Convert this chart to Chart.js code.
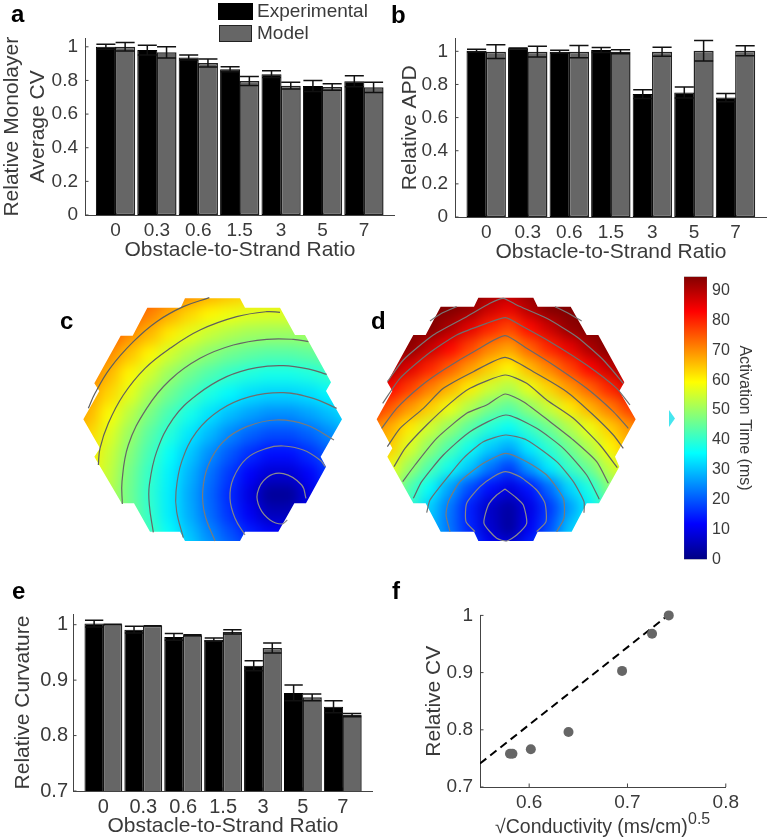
<!DOCTYPE html>
<html>
<head>
<meta charset="utf-8">
<script src="https://cdn.jsdelivr.net/npm/chart.js@4/dist/chart.umd.js"></script>
<style>
  html, body { margin: 0; padding: 0; background: #fff; }
  body { position: relative; width: 770px; height: 839px; overflow: hidden; font-family: "Liberation Sans", sans-serif; color: #3a3a3a; }
  canvas { position: absolute; }
  .panel { position: absolute; font: bold 24px/24px "Liberation Sans", sans-serif; color: #000; }
  .swatch { position: absolute; box-sizing: border-box; }
  .legend-text { position: absolute; font-size: 19px; line-height: 20px; left: 257px; }
  #f-xlabel { position: absolute; left: 495px; top: 814px; font-size: 19.5px; line-height: 24px; white-space: nowrap; }
  #f-xlabel span { position: absolute; left: 193px; top: -7px; font-size: 16px; }
  #stray { position: absolute; left: 669px; top: 410px; width: 6px; height: 17px; background: #45e6ef; clip-path: polygon(0 0, 100% 50%, 0 100%); }
</style>
</head>
<body>
<canvas id="chart-a"></canvas>
<canvas id="chart-b"></canvas>
<canvas id="chart-c"></canvas>
<canvas id="chart-d"></canvas>
<canvas id="chart-bar"></canvas>
<canvas id="chart-e"></canvas>
<canvas id="chart-f"></canvas>

<div class="panel" style="left:11px;top:2px">a</div>
<div class="panel" style="left:391px;top:3px">b</div>
<div class="panel" style="left:60px;top:309px">c</div>
<div class="panel" style="left:371px;top:309px">d</div>
<div class="panel" style="left:12px;top:579px">e</div>
<div class="panel" style="left:392px;top:579px">f</div>

<div class="swatch" style="left:218px;top:3px;width:35px;height:17px;background:#000"></div>
<div class="legend-text" style="top:1px">Experimental</div>
<div class="swatch" style="left:219px;top:25px;width:33px;height:17px;background:#666;border:1.5px solid #222"></div>
<div class="legend-text" style="top:23px">Model</div>

<div id="f-xlabel">√Conductivity (ms/cm)<span>0.5</span></div>
<div id="stray"></div>

<script>
const ratioLabels = ["0", "0.3", "0.6", "1.5", "3", "5", "7"];
const ratioPositions = [1, 2, 3, 4, 5, 6, 7];

const aExperimental = [1.0, 0.981, 0.937, 0.866, 0.837, 0.767, 0.795];
const aExperimentalErr = [0.015, 0.029, 0.015, 0.015, 0.02, 0.032, 0.033];
const aModel = [1.0, 0.967, 0.904, 0.797, 0.769, 0.761, 0.759];
const aModelErr = [0.025, 0.033, 0.024, 0.027, 0.02, 0.02, 0.031];
const aTicks = [0, 0.2, 0.4, 0.6, 0.8, 1];

const bExperimental = [1.004, 1.018, 0.998, 1.008, 0.742, 0.752, 0.721];
const bExperimentalErr = [0.008, 0.002, 0.008, 0.015, 0.026, 0.033, 0.025];
const bModel = [0.998, 0.998, 0.998, 0.998, 0.998, 1.003, 1.003];
const bModelErr = [0.041, 0.033, 0.037, 0.012, 0.027, 0.062, 0.03];
const bTicks = [0, 0.2, 0.4, 0.6, 0.8, 1];

const eExperimental = [1.002, 0.991, 0.978, 0.973, 0.926, 0.877, 0.852];
const eExperimentalErr = [0.006, 0.006, 0.006, 0.003, 0.009, 0.014, 0.011];
const eModel = [1.001, 0.998, 0.981, 0.987, 0.958, 0.869, 0.837];
const eModelErr = [0, 0, 0.001, 0.004, 0.009, 0.006, 0.003];
const eTicks = [0.7, 0.8, 0.9, 1];

const fConductivity = [0.5805, 0.583, 0.6017, 0.64, 0.6945, 0.725, 0.742];
const fRelativeCv = [0.758, 0.758, 0.766, 0.796, 0.903, 0.968, 1.0];
const fFitX = [0.55, 0.741];
const fFitY = [0.741, 1.0];
const fXTicks = [0.6, 0.7, 0.8];
const fYTicks = [0.7, 0.8, 0.9, 1];

const barTicks = [0, 10, 20, 30, 40, 50, 60, 70, 80, 90];
const jetStops = [0, 11.9, 35.6, 59.4, 83.1, 95];
const jetColors = [[0, 0, 131], [0, 0, 255], [0, 255, 255], [255, 255, 0], [255, 0, 0], [128, 0, 0]];

// activation maps: values read on a coarse grid, x/y are in map units
const mapCColumns = [60, 120, 180, 240, 300, 360, 420, 480, 540, 600, 660, 720, 780, 840, 900];
const mapCRows = [-30, 30, 90, 150, 210, 270, 330, 390, 450, 510, 570, 630, 690, 750, 810];
const mapCValues = [
  [92, 88, 84, 81, 77, 75, 72, 70, 69, 68, 67, 67, 68, 69, 70],
  [90, 86, 82, 79, 76, 73, 70, 67, 65, 63, 62, 62, 63, 64, 66],
  [86, 83, 79, 75, 71, 67, 63, 60, 58, 56.5, 56, 56, 56.5, 58, 60],
  [83, 79, 75, 70, 66, 61, 57, 54, 52, 50.5, 50, 50, 50.5, 52, 54],
  [80, 75, 70, 65, 60, 55, 51.5, 48.5, 46, 44.5, 43.5, 43.5, 44.5, 46, 48.5],
  [77, 72, 66, 60, 55, 50, 46, 43, 40.5, 38.5, 37.5, 37.5, 38.5, 40.5, 43],
  [74, 68, 63, 57, 51, 46, 42, 38, 35, 32.5, 31.5, 31.5, 32.5, 35, 38],
  [71, 66, 59, 53, 47, 42, 37.5, 33, 29.5, 27, 25, 25, 27, 29.5, 33],
  [69, 63, 56.5, 50, 44, 39, 33.5, 29, 24.5, 21, 19, 19, 21, 24.5, 29],
  [68, 61, 54.5, 48, 42, 36, 30.5, 25, 20, 16, 13, 13, 16, 20, 25],
  [66, 60, 53.5, 46.5, 40.5, 34.5, 28.5, 22.5, 17, 11.5, 7.5, 7.5, 11.5, 17, 22.5],
  [65.5, 59.5, 52.5, 46, 40, 34, 27.5, 21.5, 15.5, 9, 2, 2, 9, 15.5, 21.5],
  [66, 59.5, 53, 46.5, 40.5, 34, 28, 22, 16.5, 11, 5.5, 5.5, 11, 16.5, 22],
  [66.5, 60.5, 54, 47.5, 41.5, 36, 30, 24.5, 19.5, 15, 12, 12, 15, 19.5, 24.5],
  [68, 62, 55.5, 49.5, 44, 38.5, 33, 28, 23.5, 20, 18, 18, 20, 23.5, 28],
];
const mapCOutline = [[405, 40], [570, 40], [585, 68], [690, 68], [735, 150], [765, 150], [843, 292], [828, 318], [876, 403], [812, 515], [828, 545], [768, 655], [733, 655], [685, 740], [585, 740], [570, 768], [405, 768], [390, 740], [300, 740], [252, 655], [215, 655], [133, 515], [150, 490], [100, 403], [148, 318], [133, 295], [212, 152], [248, 152], [292, 68], [392, 68]];
const mapCContours = [
  [[712, 705], [695, 717], [660, 705], [630, 670], [622, 625], [650, 578], [700, 566], [755, 600], [768, 640]],
  [[585, 750], [555, 700], [540, 640], [550, 580], [590, 520], [650, 490], [700, 483], [760, 495], [810, 525], [826, 545]],
  [[495, 768], [465, 690], [458, 620], [475, 540], [520, 470], [590, 425], [680, 405], [770, 420], [852, 465]],
  [[400, 758], [380, 680], [378, 620], [395, 530], [440, 440], [510, 375], [600, 335], [700, 323], [790, 340], [860, 370]],
  [[310, 742], [298, 660], [298, 600], [320, 500], [370, 400], [440, 330], [530, 275], [620, 248], [700, 242], [780, 253], [830, 268]],
  [[217, 657], [216, 590], [235, 480], [290, 370], [360, 285], [450, 220], [550, 180], [650, 163], [730, 163], [775, 170]],
  [[145, 540], [150, 490], [175, 415], [220, 330], [285, 250], [360, 190], [450, 135], [560, 95], [650, 80], [690, 82]],
  [[115, 370], [135, 325], [180, 250], [250, 170], [320, 110], [400, 65], [478, 38]],
];
const mapCContourColors = ["#8c8c8c", "#858585", "#7a7a7a", "#6e6e6e", "#666666", "#666666", "#5e5e5e", "#5e5e5e"];

const mapDColumns = [30, 90, 150, 210, 270, 330, 390, 450, 510, 570, 630, 690, 750, 810, 870];
const mapDRows = [10, 70, 130, 190, 250, 310, 370, 430, 490, 550, 610, 670, 730, 790];
const mapDValues = [
  [95, 95, 95, 95, 95, 95, 94, 92, 94, 95, 95, 95, 95, 95, 95],
  [95, 95, 95, 95, 95, 93.5, 88, 85, 90.5, 95, 95, 95, 95, 95, 95],
  [95, 95, 95, 95, 91, 85.6, 80, 76.6, 82.5, 88, 93.5, 95, 95, 95, 95],
  [95, 95, 94, 88.5, 83, 77, 71, 68, 74, 80, 85, 91, 95, 95, 95],
  [95, 91.5, 86, 80, 74.5, 69, 64, 60, 66, 71, 77, 83, 88.5, 94, 95],
  [89, 83, 77.5, 71.5, 66.5, 61, 55, 52, 57.5, 63.5, 69, 74, 80, 86, 91],
  [81, 75, 69, 64, 58, 52, 47, 44, 49, 54.5, 61, 66.5, 71.5, 77.5, 83],
  [72, 67, 61, 55, 49.5, 44, 39, 36, 41, 46, 52, 58, 64, 69, 75],
  [69, 64, 56, 49, 43, 37, 31, 27.6, 34, 40, 46, 52, 60, 66, 72],
  [64, 58, 50, 43, 37, 30.5, 23, 17.5, 26.5, 34, 41, 46, 54, 60, 66],
  [62, 55, 43, 36, 27, 19, 13, 9, 13.5, 22, 32, 38, 48, 56, 64],
  [56, 48, 40, 31, 23, 14.5, 6.5, 3, 9.5, 17, 26.5, 34.5, 43, 50, 58],
  [54, 46, 38, 30, 22.5, 15, 7.5, 2.5, 11, 19, 30, 37, 44, 52, 60],
  [56, 48, 40, 33, 26, 19, 12, 9, 15, 24, 34, 40, 47, 55, 62],
];
const mapDOutline = [[355, 38], [520, 38], [533, 65], [632, 65], [680, 150], [715, 150], [793, 292], [778, 318], [827, 403], [765, 515], [778, 545], [717, 655], [680, 655], [635, 740], [533, 740], [520, 768], [355, 768], [342, 740], [242, 740], [197, 655], [160, 655], [82, 515], [97, 490], [50, 403], [97, 318], [82, 292], [160, 150], [197, 150], [242, 65], [342, 65]];
const mapDContours = [
  [[435, 612], [465, 635], [490, 660], [500, 715], [470, 750], [440, 768], [410, 760], [372, 715], [385, 660], [410, 630], [435, 612]],
  [[345, 740], [318, 710], [320, 655], [360, 605], [400, 575], [437, 560], [480, 575], [530, 615], [555, 655], [558, 710], [530, 740]],
  [[270, 740], [258, 690], [265, 650], [300, 590], [370, 535], [437, 505], [500, 530], [560, 570], [610, 640], [612, 700], [590, 740]],
  [[200, 683], [210, 645], [260, 580], [310, 520], [370, 470], [437, 450], [500, 465], [590, 530], [640, 590], [672, 650], [672, 683]],
  [[160, 640], [185, 590], [250, 510], [330, 440], [437, 390], [530, 430], [610, 490], [680, 570], [718, 643]],
  [[128, 590], [165, 540], [230, 460], [320, 385], [380, 360], [435, 327], [490, 350], [570, 410], [640, 465], [710, 530], [745, 595]],
  [[102, 545], [135, 490], [200, 420], [270, 355], [330, 310], [435, 270], [500, 295], [560, 345], [640, 400], [720, 480], [772, 548]],
  [[82, 485], [120, 430], [190, 370], [250, 310], [340, 260], [435, 217], [520, 260], [620, 320], [700, 390], [760, 450], [790, 490]],
  [[65, 430], [110, 370], [180, 305], [250, 255], [350, 195], [435, 152], [500, 190], [580, 240], [680, 310], [760, 380], [805, 430]],
  [[68, 355], [120, 280], [200, 210], [290, 150], [380, 115], [437, 98], [480, 120], [570, 170], [680, 240], [770, 310], [810, 360]],
  [[82, 290], [130, 225], [220, 150], [320, 95], [390, 55], [430, 40], [470, 60], [560, 100], [650, 155], [730, 225], [790, 295]],
  [[210, 108], [245, 85], [290, 65]],
  [[585, 65], [625, 85], [665, 108]],
];
const mapDContourColors = ["#8c8c8c", "#858585", "#7a7a7a", "#6e6e6e", "#666666", "#666666", "#606060", "#606060", "#6a6a6a", "#6e6e6e", "#777777", "#777777", "#777777"];

const TEXT_COLOR = "#3a3a3a";
const AXIS_COLOR = "#444444";
const BLACK_BAR = "#000000";
const GRAY_BAR = "#666666";

Chart.defaults.font.family = '"Liberation Sans", sans-serif';
Chart.defaults.color = TEXT_COLOR;
Chart.defaults.animation = false;

function place(id, left, top, width, height) {
  const canvas = document.getElementById(id);
  canvas.width = width;
  canvas.height = height;
  canvas.style.left = `${left}px`;
  canvas.style.top = `${top}px`;
  canvas.style.width = `${width}px`;
  canvas.style.height = `${height}px`;
  return canvas.getContext("2d");
}

function jetColor(value) {
  let i = 0;
  while (i < jetStops.length - 2 && value > jetStops[i + 1]) i++;
  const t = Math.min(1, Math.max(0, (value - jetStops[i]) / (jetStops[i + 1] - jetStops[i])));
  const rgb = jetColors[i].map((c, k) => Math.round(c + (jetColors[i + 1][k] - c) * t));
  return `rgb(${rgb.join(",")})`;
}

// MATLAB style ticks that point into the plot
const inwardTicks = {
  id: "inwardTicks",
  beforeDatasetsDraw(chart) {
    const { ctx, chartArea } = chart;
    ctx.save();
    ctx.strokeStyle = AXIS_COLOR;
    ctx.lineWidth = 1;
    Object.values(chart.scales).forEach((scale) => {
      if (!scale.options.display) return;
      scale.ticks.forEach((tick) => {
        const p = scale.getPixelForValue(tick.value);
        ctx.beginPath();
        if (scale.axis === "x") {
          ctx.moveTo(p, chartArea.bottom);
          ctx.lineTo(p, chartArea.bottom - 3.5);
        } else if (scale.position === "right") {
          ctx.moveTo(chartArea.right, p);
          ctx.lineTo(chartArea.right - 3.5, p);
        } else {
          ctx.moveTo(chartArea.left, p);
          ctx.lineTo(chartArea.left + 3.5, p);
        }
        ctx.stroke();
      });
    });
    ctx.restore();
  },
};

const errorBars = {
  id: "errorBars",
  afterDatasetsDraw(chart) {
    const { ctx } = chart;
    const yScale = chart.scales.y;
    ctx.save();
    ctx.strokeStyle = "#111111";
    ctx.lineWidth = 1.5;
    chart.data.datasets.forEach((dataset, d) => {
      const meta = chart.getDatasetMeta(d);
      dataset.errors.forEach((err, i) => {
        const bar = meta.data[i];
        const half = bar.width / 2 - 0.5;
        const hi = yScale.getPixelForValue(dataset.data[i].y + err);
        const lo = yScale.getPixelForValue(dataset.data[i].y - err);
        ctx.beginPath();
        ctx.moveTo(bar.x, hi);
        ctx.lineTo(bar.x, lo);
        ctx.moveTo(bar.x - half, hi);
        ctx.lineTo(bar.x + half, hi);
        ctx.moveTo(bar.x - half, lo);
        ctx.lineTo(bar.x + half, lo);
        ctx.stroke();
      });
    });
    ctx.restore();
  },
};

function axisTitle(text, size) {
  return { display: true, text, font: { size }, color: TEXT_COLOR, padding: 0, lineHeight: 1.15 };
}

function barPanel(ctx, cfg) {
  const toPoints = (values) => values.map((y, i) => ({ x: ratioPositions[i], y }));
  return new Chart(ctx, {
    type: "bar",
    data: {
      datasets: [
        { label: "Experimental", data: toPoints(cfg.experimental), errors: cfg.experimentalErr, backgroundColor: BLACK_BAR, borderColor: BLACK_BAR, borderWidth: 1 },
        { label: "Model", data: toPoints(cfg.model), errors: cfg.modelErr, backgroundColor: GRAY_BAR, borderColor: "#222222", borderWidth: 1.5 },
      ],
    },
    options: {
      responsive: false,
      layout: { padding: { top: cfg.paddingTop } },
      datasets: { bar: { categoryPercentage: 0.93, barPercentage: 1.04, borderSkipped: false } },
      plugins: { legend: { display: false }, tooltip: { enabled: false } },
      scales: {
        x: {
          type: "linear",
          offset: false,
          min: cfg.xMin,
          max: cfg.xMax,
          grid: { display: false, drawTicks: false, offset: false },
          border: { color: AXIS_COLOR },
          afterBuildTicks(scale) { scale.ticks = ratioPositions.map((value) => ({ value })); },
          afterFit(scale) { scale.height = cfg.bottomSize; },
          ticks: { font: { size: cfg.tickSize }, padding: 4, autoSkip: false, maxRotation: 0, minRotation: 0, callback: (v) => ratioLabels[v - 1] },
          title: axisTitle("Obstacle-to-Strand Ratio", 21),
        },
        y: {
          min: cfg.yMin,
          max: cfg.yMax,
          grid: { display: false, drawTicks: false },
          border: { color: AXIS_COLOR },
          afterBuildTicks(scale) { scale.ticks = cfg.yTicks.map((value) => ({ value })); },
          afterFit(scale) { scale.width = cfg.leftSize; },
          ticks: { font: { size: cfg.tickSize }, padding: cfg.yPad, callback: (v) => String(v) },
          title: axisTitle(cfg.yTitle, 21),
        },
      },
    },
    plugins: [inwardTicks, errorBars],
  });
}

barPanel(place("chart-a", 0, 20, 395, 243), {
  experimental: aExperimental, experimentalErr: aExperimentalErr, model: aModel, modelErr: aModelErr,
  xMin: 0.263, xMax: 7.75, yMin: 0, yMax: 1.05, yTicks: aTicks, yTitle: ["Relative Monolayer", "Average CV"],
  paddingTop: 12, leftSize: 85, bottomSize: 48, tickSize: 19, yPad: 7,
});

barPanel(place("chart-b", 398, 20, 369, 245), {
  experimental: bExperimental, experimentalErr: bExperimentalErr, model: bModel, modelErr: bModelErr,
  xMin: 0.249, xMax: 7.758, yMin: 0, yMax: 1.078, yTicks: bTicks, yTitle: "Relative APD",
  paddingTop: 13, leftSize: 57, bottomSize: 48, tickSize: 19, yPad: 7,
});

barPanel(place("chart-e", 11, 597, 362, 242), {
  experimental: eExperimental, experimentalErr: eExperimentalErr, model: eModel, modelErr: eModelErr,
  xMin: 0.238, xMax: 7.757, yMin: 0.7, yMax: 1.0193, yTicks: eTicks, yTitle: "Relative Curvature",
  paddingTop: 12, leftSize: 62, bottomSize: 48, tickSize: 20, yPad: 5,
});

// soften the drawn cells into a continuous field and cut it to the hexagon outline
const fieldSmoothing = {
  id: "fieldSmoothing",
  afterDatasetDraw(chart, args) {
    if (args.index !== 0) return;
    const { ctx, canvas, scales } = chart;
    const copy = document.createElement("canvas");
    copy.width = canvas.width;
    copy.height = canvas.height;
    copy.getContext("2d").drawImage(canvas, 0, 0);
    ctx.save();
    ctx.clearRect(0, 0, canvas.width, canvas.height);
    ctx.beginPath();
    chart.data.datasets[0].outline.forEach(([x, y], i) => {
      const px = scales.x.getPixelForValue(x);
      const py = scales.y.getPixelForValue(y);
      if (i === 0) ctx.moveTo(px, py);
      else ctx.lineTo(px, py);
    });
    ctx.closePath();
    ctx.clip();
    ctx.filter = "blur(7px)";
    ctx.drawImage(copy, 0, 0);
    ctx.restore();
  },
};

function mapPanel(ctx, columns, rows, values, outline, contours, contourColors, tension) {
  const cells = [];
  const cellColors = [];
  rows.forEach((y, r) => {
    columns.forEach((x, c) => {
      cells.push({ x, y });
      cellColors.push(jetColor(values[r][c]));
    });
  });
  const lines = contours.map((line, i) => ({
    data: line.map(([x, y]) => ({ x, y })),
    showLine: true,
    pointRadius: 0,
    borderColor: contourColors[i],
    borderWidth: 1.2,
    tension,
    order: 0,
  }));
  return new Chart(ctx, {
    type: "scatter",
    data: {
      datasets: [
        { data: cells, outline, order: 99, pointStyle: "rect", pointRadius: 15, pointBorderWidth: 0, pointBackgroundColor: cellColors },
        ...lines,
      ],
    },
    options: {
      responsive: false,
      layout: { autoPadding: false },
      plugins: { legend: { display: false }, tooltip: { enabled: false } },
      scales: {
        x: { display: false, min: -60, max: 990 },
        y: { display: false, min: -60, max: 855, reverse: true },
      },
    },
    plugins: [fieldSmoothing],
  });
}

mapPanel(place("chart-c", 30, 265, 350, 305), mapCColumns, mapCRows, mapCValues, mapCOutline, mapCContours, mapCContourColors, 0.4);
mapPanel(place("chart-d", 340, 265, 350, 305), mapDColumns, mapDRows, mapDValues, mapDOutline, mapDContours, mapDContourColors, 0.2);

new Chart(place("chart-bar", 684, 262, 70, 312), {
  type: "bar",
  data: {
    labels: ["Activation Time"],
    datasets: [{
      data: [[0, 94.7]],
      borderColor: "#555555",
      borderWidth: 0.5,
      borderSkipped: false,
      barPercentage: 1,
      categoryPercentage: 1,
      backgroundColor(context) {
        const { chart } = context;
        const yScale = chart.scales.y;
        if (!yScale || !chart.chartArea) return "#000";
        const gradient = chart.ctx.createLinearGradient(0, yScale.getPixelForValue(0), 0, yScale.getPixelForValue(95));
        jetStops.forEach((stop, i) => gradient.addColorStop(stop / 95, `rgb(${jetColors[i].join(",")})`));
        return gradient;
      },
    }],
  },
  options: {
    responsive: false,
    layout: { padding: { top: 12, bottom: 12 } },
    plugins: { legend: { display: false }, tooltip: { enabled: false } },
    scales: {
      x: { display: false },
      y: {
        position: "right",
        min: 0,
        max: 94.7,
        grid: { display: false, drawTicks: false },
        border: { display: false },
        afterBuildTicks(scale) { scale.ticks = barTicks.map((value) => ({ value })); },
        afterFit(scale) { scale.width = 47; },
        ticks: { font: { size: 16 }, padding: 5, callback: (v) => String(v) },
        title: { display: true, text: "Activation Time (ms)", font: { size: 16 }, color: TEXT_COLOR, padding: 0 },
      },
    },
  },
});

const fPoints = fConductivity.map((x, i) => ({ x, y: fRelativeCv[i] }));
const fFit = fFitX.map((x, i) => ({ x, y: fFitY[i] }));

new Chart(place("chart-f", 422, 597, 321, 242), {
  type: "scatter",
  data: {
    datasets: [
      { data: fPoints, pointRadius: 5, pointBackgroundColor: GRAY_BAR, pointBorderWidth: 0, order: 0, clip: false },
      { data: fFit, showLine: true, pointRadius: 0, borderColor: "#000000", borderWidth: 2, borderDash: [8, 5], order: 1 },
    ],
  },
  options: {
    responsive: false,
    layout: { padding: { top: 12, right: 15 }, autoPadding: false },
    plugins: { legend: { display: false }, tooltip: { enabled: false } },
    scales: {
      x: {
        min: 0.55,
        max: 0.8,
        grid: { display: false, drawTicks: false },
        border: { color: AXIS_COLOR },
        afterBuildTicks(scale) { scale.ticks = fXTicks.map((value) => ({ value })); },
        afterFit(scale) { scale.height = 52; },
        ticks: { font: { size: 19 }, padding: 4, maxRotation: 0, minRotation: 0, callback: (v) => String(v) },
      },
      y: {
        min: 0.7,
        max: 1,
        grid: { display: false, drawTicks: false },
        border: { color: AXIS_COLOR },
        afterBuildTicks(scale) { scale.ticks = fYTicks.map((value) => ({ value })); },
        afterFit(scale) { scale.width = 58; },
        ticks: { font: { size: 19 }, padding: 7, callback: (v) => String(v) },
        title: axisTitle("Relative CV", 21),
      },
    },
  },
  plugins: [inwardTicks],
});
</script>
</body>
</html>
